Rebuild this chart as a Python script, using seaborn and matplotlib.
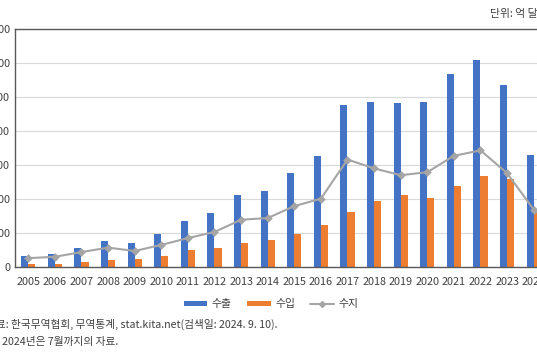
import matplotlib
matplotlib.use("Agg")
import matplotlib.pyplot as plt
import seaborn as sns
import pandas as pd
from matplotlib.patches import Patch
from matplotlib.lines import Line2D

years = [str(y) for y in range(2005, 2025)]
exports = [33, 38, 57, 76, 70, 97, 134, 158, 211, 223, 277, 326, 477, 484, 481, 484, 567, 609, 534, 330]
imports = [8, 9, 16, 21, 24, 32, 50, 56, 72, 79, 98, 125, 162, 195, 211, 204, 239, 267, 259, 161]
balance = [26, 30, 44, 57, 47, 65, 85, 103, 139, 144, 179, 201, 316, 290, 270, 279, 327, 343, 276, 169]
series_names = ["수출", "수입", "수지"]
yticks = [0, 100, 200, 300, 400, 500, 600, 700]

BLUE = "#4472C4"
ORANGE = "#ED7D31"
GRAY = "#A5A5A5"

sns.set_theme(style="white")
plt.rcParams["font.family"] = ["Noto Sans CJK KR", "DejaVu Sans"]

df = pd.DataFrame({
    "year": years * 2,
    "value": exports + imports,
    "kind": [series_names[0]] * len(years) + [series_names[1]] * len(years),
})

fig = plt.figure(figsize=(5.37, 3.6), dpi=100)
W, H = 537, 360
ax = fig.add_axes([15 / W, 93 / H, 532 / W, 238 / H])

sns.barplot(data=df, x="year", y="value", hue="kind", order=years,
            hue_order=series_names[:2], palette=[BLUE, ORANGE],
            width=0.54, ax=ax, legend=False, saturation=1, errorbar=None,
            linewidth=0, edgecolor="none")
sns.pointplot(x=years, y=balance, order=years, color=GRAY, marker="D",
              markersize=3.3, linewidth=1.5, ax=ax, errorbar=None)

ax.set_xlim(-0.5, len(years) - 0.5)
ax.set_ylim(0, 700)
ax.set_yticks(yticks)
ax.set_yticklabels([str(v) for v in yticks])
ax.set_xlabel("")
ax.set_ylabel("")
ax.grid(axis="y", color="#D9D9D9", linewidth=0.8)
ax.set_axisbelow(True)
for s in ["left", "top", "right", "bottom"]:
    ax.spines[s].set_color("#595959")
    ax.spines[s].set_linewidth(1.0)
ax.tick_params(axis="both", length=0, labelsize=7.8, colors="#404040")
ax.tick_params(axis="y", pad=3.5)
ax.tick_params(axis="x", pad=7)

handles = [
    Patch(facecolor=BLUE, edgecolor="none"),
    Patch(facecolor=ORANGE, edgecolor="none"),
    Line2D([0], [0], color=GRAY, linewidth=1.5, marker="D", markersize=3),
]
fig.legend(handles, series_names, loc="center", bbox_to_anchor=(271 / W, 1 - 304 / H),
           ncol=3, frameon=False, fontsize=7.8, handlelength=2.2, handleheight=0.35,
           columnspacing=1.4, handletextpad=0.4, labelcolor="#404040")

fig.text(490 / W, 1 - 14 / H, "단위: 억 달러", fontsize=7.8, color="#404040",
         ha="left", va="center")
fig.text(-14 / W, 1 - 324 / H, "자료: 한국무역협회, 무역통계, stat.kita.net(검색일: 2024. 9. 10).",
         fontsize=7.7, color="#404040", ha="left", va="center")
fig.text(-13 / W, 1 - 342 / H, "주: 2024년은 7월까지의 자료.",
         fontsize=7.7, color="#404040", ha="left", va="center")

fig.savefig("out.png", dpi=100)
